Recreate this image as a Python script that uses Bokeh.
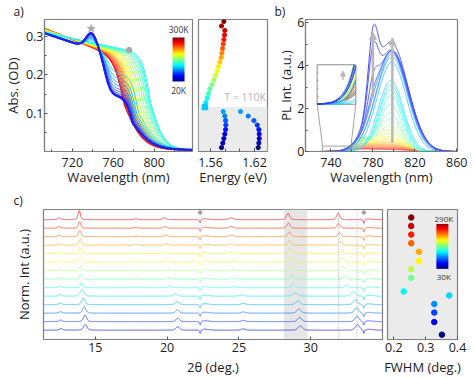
import numpy as np
from bokeh.plotting import figure
from bokeh.layouts import row, column
from bokeh.models import (Label, BoxAnnotation, Span, Arrow, NormalHead, Title,
                          FixedTicker, LinearColorMapper, Range1d)
from bokeh.embed import file_html
from bokeh.resources import INLINE

FONT = "Open Sans"
FRAME = "#808080"
TXT = "#1b1b1b"
TICK_FS = "12.5px"
LAB_FS = "13px"

# ---------------- a) absorption spectra (read from the picture) ----------------
ABS_LOW_T = [20, 30, 40, 50, 60, 70, 80, 90, 100]
ABS_LOW_A693 = [0.305, 0.305, 0.305, 0.306, 0.306, 0.306, 0.307, 0.307, 0.308]
ABS_LOW_PLAT = [0.140, 0.143, 0.148, 0.154, 0.160, 0.168, 0.176, 0.186, 0.198]
ABS_LOW_EXC = [0.043, 0.041, 0.039, 0.036, 0.033, 0.030, 0.027, 0.024, 0.020]
ABS_LOW_E1 = [752.5, 752.5, 753.0, 753.0, 753.5, 754.0, 754.5, 755.0, 756.0]
ABS_LOW_E2 = [779.0, 779.0, 779.5, 780.0, 780.5, 781.0, 782.0, 783.0, 784.5]
ABS_TILT = -0.0009
ABS_EXC_NM = 739.0

ABS_HIGH_T = [110, 120, 130, 140, 150, 160, 170, 180, 190, 200,
              210, 220, 230, 240, 250, 260, 270, 280, 290, 300]
ABS_HIGH_A693 = [0.306, 0.307, 0.308, 0.309, 0.310, 0.311, 0.312, 0.312, 0.313, 0.313,
                 0.314, 0.314, 0.315, 0.315, 0.316, 0.316, 0.316, 0.317, 0.317, 0.317]
ABS_HIGH_A780 = [0.258, 0.256, 0.254, 0.252, 0.250, 0.248, 0.246, 0.244, 0.242, 0.240,
                 0.238, 0.236, 0.234, 0.232, 0.231, 0.230, 0.229, 0.228, 0.227, 0.226]
ABS_HIGH_EDGE = [796.5, 795.5, 794.5, 793.0, 791.5, 789.5, 787.5, 785.5, 783.5, 782.0,
                 780.5, 779.0, 778.0, 777.0, 776.0, 775.0, 774.0, 773.0, 772.0, 771.0]
ABS_HIGH_WLO = [4.0, 4.0, 4.1, 4.1, 4.2, 4.2, 4.3, 4.3, 4.4, 4.4,
                4.5, 4.5, 4.6, 4.6, 4.7, 4.7, 4.8, 4.8, 4.9, 5.0]
ABS_HIGH_WHI = [7.0, 7.2, 7.4, 7.6, 7.8, 8.0, 8.2, 8.4, 8.6, 8.8,
                9.0, 9.1, 9.2, 9.3, 9.4, 9.5, 9.6, 9.7, 9.8, 10.0]
ABS_MARK_STAR = (738.5, 0.321)
ABS_MARK_DOT = (775.6, 0.265)

# ---------------- a) right: energy vs temperature ----------------
EN_T_HIGH = [300, 290, 280, 270, 260, 250, 240, 230, 220, 210,
             200, 190, 180, 170, 160, 150, 140, 130, 120, 110]
EN_HIGH = [1.5782, 1.5750, 1.5795, 1.5791, 1.5782, 1.5773, 1.5764, 1.5755, 1.5745, 1.5727,
           1.5709, 1.5691, 1.5668, 1.5645, 1.5618, 1.5591, 1.5573, 1.5555, 1.5536, 1.5523]
EN_T_LOW = [100, 90, 80, 70, 60, 50, 40, 30, 20]
EN_LOW_A = [1.5773, 1.5795, 1.5805, 1.5809, 1.5805, 1.5795, 1.5782, 1.5768, 1.5750]
EN_LOW_B = [1.6009, 1.6114, 1.6191, 1.6237, 1.6259, 1.6264, 1.6264, 1.6259, 1.6250]
T_TRANSITION = 110

# ---------------- b) PL spectra ----------------
PL_T = [20, 30, 40, 50, 60, 70, 80, 90, 100, 110, 120, 130, 140, 150, 160,
        170, 180, 190, 200, 210, 220, 230, 240, 250, 260, 270, 280, 290, 300]
PL_A1 = [2.90, 2.30, 1.14, 0.40, 0.15, 0, 0, 0, 0, 0, 0, 0, 0, 0, 0,
         0, 0, 0, 0, 0, 0, 0, 0, 0, 0, 0, 0, 0, 0]
PL_A2 = [5.10, 4.72, 4.70, 4.70, 4.65, 4.55, 4.40, 4.15, 3.30, 3.10, 2.90, 2.60, 2.20, 1.80, 1.50,
         1.20, 1.00, 0.85, 0.70, 0.60, 0.50, 0.42, 0.35, 0.30, 0.25, 0.20, 0.16, 0.13, 0.10]
PL_C2 = [797, 797, 798, 798, 798, 798, 798, 798, 797, 797, 797, 797, 796.5, 796, 796,
         795.5, 795, 795, 794.5, 794, 794, 793.5, 793, 793, 792, 792, 791, 790, 790]
PL_SL = [16, 16, 16, 16, 16, 15, 15, 14, 12, 11, 11, 10.5, 10.5, 10.5, 11,
         11, 11.5, 12, 12.5, 13, 14, 15, 16, 17, 18, 19, 20, 21, 22]
PL_SR = [16, 16, 16, 16, 15.5, 15, 15, 14, 12, 11.5, 11, 11, 11, 11, 11.5,
         12, 12.5, 13, 14, 15, 16, 17, 18, 19, 20, 21, 22, 23, 24]
PL_A3 = [0, 0, 0, 0, 0, 0, 0, 0, 0, 0.05, 0.15, 0.30, 0.45, 0.55, 0.60,
         0.60, 0.55, 0.50, 0.42, 0.35, 0.30, 0.25, 0.20, 0.16, 0.13, 0.10, 0.08, 0.06, 0.05]
PL_C1, PL_S1 = 780.0, 4.5
PL_C3, PL_S3 = 768.0, 8.0
PL_ARROWS = [(780.0, 2.5, 5.55), (798.5, 0.4, 5.3)]
INSET_BOX = (726.8, 763.7, 2.2, 4.04)
INSET_VIEW = (732.0, 759.0, 0.0, 0.25)

# ---------------- c) XRD ----------------
XRD_T = [30, 50, 70, 90, 110, 130, 150, 170, 190, 210, 230, 250, 270, 290]
XRD_P12_POS = [12.60, 12.60, 12.58, 12.56, 12.55, 12.52, 12.50, 12.50, 12.49, 12.48, 12.48, 12.48, 12.48, 12.48]
XRD_P12_H = [0.18, 0.18, 0.18, 0.18, 0.17, 0.15, 0.15, 0.15, 0.15, 0.15, 0.16, 0.17, 0.18, 0.20]
XRD_P14_POS = [14.30, 14.28, 14.23, 14.16, 14.07, 14.02, 13.99, 13.99, 13.97, 13.95, 13.95, 13.92, 13.90, 13.88]
XRD_P14_H = [0.68, 0.76, 0.76, 0.76, 0.80, 0.57, 0.60, 0.60, 0.62, 0.64, 0.68, 0.76, 0.76, 1.06]
XRD_P18_POS = [17.85] * 14
XRD_P18_H = [0, 0, 0, 0, 0, 0.05, 0.05, 0.06, 0.06, 0.07, 0.08, 0.08, 0.09, 0.10]
XRD_P20_POS = [20.74, 20.74, 20.72, 20.70, 20.60, 20.20, 20.15, 20.10, 20.05, 20.00, 19.95, 19.90, 19.85, 19.81]
XRD_P20_H = [0.40, 0.40, 0.40, 0.38, 0.30, 0.15, 0.15, 0.15, 0.15, 0.18, 0.18, 0.20, 0.20, 0.22]
XRD_P25_POS = [25.30, 25.30, 25.30, 25.30, 25.20, 24.70, 24.65, 24.60, 24.55, 24.50, 24.50, 24.48, 24.46, 24.46]
XRD_P25_H = [0.15, 0.15, 0.15, 0.15, 0.15, 0.12, 0.12, 0.12, 0.12, 0.15, 0.15, 0.18, 0.20, 0.22]
XRD_PE_POS = [29.28, 29.23, 29.18, 29.11, 28.93, 28.77, 28.70, 28.65, 28.60, 28.58, 28.53, 28.51, 28.46, 28.42]
XRD_PE_H = [0.50, 0.50, 0.50, 0.45, 0.40, 0.50, 0.55, 0.55, 0.55, 0.55, 0.55, 0.55, 0.60, 0.76]
XRD_PF_POS = [33.26, 33.23, 33.19, 33.12, 32.95, 32.49, 32.37, 32.26, 32.21, 32.14, 32.09, 32.02, 31.95, 31.91]
XRD_PF_H = [0.65, 0.65, 0.65, 0.60, 0.50, 0.35, 0.45, 0.50, 0.50, 0.50, 0.50, 0.50, 0.55, 0.76]
XRD_ART_POS = [22.30, 33.70]
XRD_ART_DIP = [0.45, 0.50]
XRD_ART_BUMP = [0.12, 0.10]
XRD_BAND = (28.14, 29.77)
XRD_DOTTED = [31.95, 33.23]

FWHM_T = [30, 58, 79, 98, 117, 126, 156, 175, 194, 214, 233, 252, 271, 290]
FWHM_VAL = [0.351, 0.327, 0.327, 0.327, 0.374, 0.231, 0.2545, 0.2545, 0.279, 0.279,
            0.2545, 0.2545, 0.2545, 0.2545]


# ---------------- helpers ----------------
def jet_rgb(f):
    f = min(max(f, 0.0), 1.0)
    r = min(max(1.5 - abs(4 * f - 3), 0), 1)
    g = min(max(1.5 - abs(4 * f - 2), 0), 1)
    b = min(max(1.5 - abs(4 * f - 1), 0), 1)
    return r, g, b


def hexc(rgb, light=0.0):
    return "#%02x%02x%02x" % tuple(int(round(255 * (c + (1 - c) * light))) for c in rgb)


def jet(t, lo, hi, light=0.0):
    """full jet scale (markers, colour bars)"""
    return hexc(jet_rgb((t - lo) / (hi - lo)), light)


def jetl(t, lo, hi, light=0.0):
    """jet scale as used for the spectra lines (no darkest ends)"""
    return hexc(jet_rgb(0.1 + 0.8 * (t - lo) / (hi - lo)), light)


JET256 = [hexc(jet_rgb(i / 255.0)) for i in range(256)]


def make_fig(w, h, xr, yr, bl, br, bt, bb, letter=None, letter_standoff=0):
    p = figure(width=w, height=h, x_range=Range1d(*xr), y_range=Range1d(*yr),
               output_backend="svg", toolbar_location=None, title=letter,
               min_border_left=bl, min_border_right=br,
               min_border_top=bt, min_border_bottom=bb)
    if letter is not None:
        p.title.align = "left"
        p.title.offset = -31
        p.title.standoff = letter_standoff
        p.title.text_font = FONT
        p.title.text_font_size = "12px"
        p.title.text_font_style = "normal"
        p.title.text_color = TXT
    p.grid.visible = False
    p.outline_line_color = FRAME
    p.outline_line_width = 1.2
    p.background_fill_color = "white"
    p.border_fill_color = "white"
    for ax in p.axis:
        ax.axis_line_color = FRAME
        ax.axis_line_width = 1.2
        ax.major_tick_line_color = "#555555"
        ax.minor_tick_line_color = "#555555"
        ax.major_tick_in = 3
        ax.major_tick_out = 0
        ax.minor_tick_in = 2
        ax.minor_tick_out = 0
        ax.major_label_text_font = FONT
        ax.major_label_text_font_size = TICK_FS
        ax.major_label_text_color = TXT
        ax.major_label_standoff = 1
        ax.axis_label_text_font = FONT
        ax.axis_label_text_font_size = LAB_FS
        ax.axis_label_text_font_style = "normal"
        ax.axis_label_text_color = TXT
    return p


def xlabel(p, text, tick_standoff, label_standoff):
    p.xaxis.axis_label = text
    p.xaxis.major_label_standoff = tick_standoff
    p.xaxis.axis_label_standoff = label_standoff


def ytitle(p, text, offset, standoff):
    p.add_layout(Title(text=text, align="center", offset=offset, standoff=standoff,
                       text_font=FONT, text_font_size=LAB_FS, text_font_style="normal",
                       text_color=TXT), "left")


def inlab(p, text, x, y, size, color="#333333"):
    p.add_layout(Label(x=x, y=y, text=text, text_align="center", text_baseline="middle",
                       text_font=FONT, text_font_size=size, text_color=color))


def step(x, e, wlo, whi):
    w = np.where(x < e, wlo, whi)
    return 1.0 / (1.0 + np.exp((x - e) / w))


def pl_curve(lam, i):
    g1 = PL_A1[i] * np.exp(-(lam - PL_C1) ** 2 / (2 * PL_S1 ** 2))
    s = np.where(lam < PL_C2[i], PL_SL[i], PL_SR[i])
    g2 = PL_A2[i] * np.exp(-(lam - PL_C2[i]) ** 2 / (2 * s ** 2))
    g3 = PL_A3[i] * np.exp(-(lam - PL_C3) ** 2 / (2 * PL_S3 ** 2))
    return g1 + g2 + g3


def pv(x, c, fw):
    g = np.exp(-4 * np.log(2) * (x - c) ** 2 / fw ** 2)
    l = 1.0 / (1.0 + ((x - c) / (fw / 2)) ** 2)
    return 0.6 * g + 0.4 * l


ROW1_H, ROW2_H = 188, 190

# ================= panel a (absorption) =================
fa1 = make_fig(195, ROW1_H, (692.8, 837.5), (0.0, 0.345), 43, 3, 17, 35, letter="a)")
fa1.xaxis.ticker = FixedTicker(ticks=[720, 760, 800], minor_ticks=[700, 740, 780, 820])
fa1.yaxis.ticker = FixedTicker(ticks=[0.1, 0.2, 0.3], minor_ticks=[0.05, 0.15, 0.25])
xlabel(fa1, "Wavelength (nm)", 6, -2)
ytitle(fa1, "Abs. (OD)", 8.5, 2)
lam_a = np.arange(692.8, 837.6, 0.5)
xs, ys, cs, ws = [], [], [], []
for k in range(len(ABS_HIGH_T) - 1, -1, -1):
    base = ABS_HIGH_A693[k] + (ABS_HIGH_A780[k] - ABS_HIGH_A693[k]) * (lam_a - 693) / 87.0
    y = base * step(lam_a, ABS_HIGH_EDGE[k], ABS_HIGH_WLO[k], ABS_HIGH_WHI[k]) + 0.004
    xs.append(lam_a); ys.append(y); cs.append(jetl(ABS_HIGH_T[k], 20, 300, 0.1))
    ws.append(1.6 if ABS_HIGH_T[k] == 300 else 1.0)
for k in range(len(ABS_LOW_T) - 1, -1, -1):
    upper = (ABS_LOW_A693[k] - ABS_LOW_PLAT[k] + ABS_TILT * (lam_a - 693)) * step(lam_a, ABS_LOW_E1[k], 3.0, 3.0)
    lower = ABS_LOW_PLAT[k] * step(lam_a, ABS_LOW_E2[k], 3.5, 10.0)
    exc = ABS_LOW_EXC[k] * np.exp(-(lam_a - ABS_EXC_NM) ** 2 / (2 * 5.5 ** 2))
    xs.append(lam_a); ys.append(upper + lower + exc + 0.004)
    cs.append(jetl(ABS_LOW_T[k], 20, 300, 0.12))
    ws.append(2.0 if ABS_LOW_T[k] <= 30 else 1.0)
fa1.multi_line(xs, ys, line_color=cs, line_width=ws)
fa1.scatter([ABS_MARK_STAR[0]], [ABS_MARK_STAR[1]], marker="star", size=8,
            color="#a8a8a8", line_color="#a8a8a8")
fa1.scatter([ABS_MARK_DOT[0]], [ABS_MARK_DOT[1]], marker="circle", size=5.5,
            color="#a8a8a8", line_color="#a8a8a8")
fa1.image(image=[np.linspace(0, 1, 256).reshape(-1, 1)], x=818.0, y=0.183, dw=11.7, dh=0.115,
          color_mapper=LinearColorMapper(palette=JET256, low=0, high=1))
inlab(fa1, "300K", 823.9, 0.318, "8.5px")
inlab(fa1, "20K", 823.9, 0.160, "8.5px")

fa2 = make_fig(79, ROW1_H, (1.5436, 1.6377), (11.3, 304.4), 3, 7, 17, 35)
fa2.yaxis.visible = False
fa2.xaxis.ticker = FixedTicker(ticks=[1.56, 1.62], minor_ticks=[1.56, 1.58, 1.60, 1.62])
fa2.xaxis.minor_tick_in = 3
xlabel(fa2, "Energy (eV)", 6, -2)
fa2.add_layout(BoxAnnotation(top=T_TRANSITION, fill_color="#ebebeb", fill_alpha=1.0,
                             line_color=None, level="underlay"))
hc = [jet(t, 20, 300) for t in EN_T_HIGH[:-1]]
fa2.scatter(EN_HIGH[:-1], EN_T_HIGH[:-1], size=4.2, color=hc, line_color=hc)
lc = [jet(t, 20, 300) for t in EN_T_LOW]
fa2.scatter(EN_LOW_A, EN_T_LOW, size=4.2, color=lc, line_color=lc)
fa2.scatter(EN_LOW_B, EN_T_LOW, size=4.2, color=lc, line_color=lc)
c110 = jet(EN_T_HIGH[-1], 20, 300)
fa2.scatter([EN_HIGH[-1]], [EN_T_HIGH[-1]], marker="square", size=5.5, color=c110, line_color=c110)
fa2.add_layout(Label(x=1.6355, y=T_TRANSITION, y_offset=3, text="T = 110K", text_align="right",
                     text_baseline="bottom", text_font=FONT, text_font_size="10.5px",
                     text_color="#b5b5b5"))

# ================= panel b (PL) =================
fb = make_fig(193, ROW1_H, (715.7, 860.6), (0.0, 6.15), 30, 10, 17, 35, letter="b)")
fb.xaxis.ticker = FixedTicker(ticks=[740, 780, 820, 860], minor_ticks=[760, 800, 840])
fb.yaxis.ticker = FixedTicker(ticks=[0, 2, 4, 6], minor_ticks=[1, 3, 5])
xlabel(fb, "Wavelength (nm)", 6, -2)
ytitle(fb, "PL Int. (a.u.)", 7.5, 0)
lam_b = np.arange(715.7, 860.6, 0.25)
xs, ys, cs = [], [], []
for k in range(len(PL_T) - 1, -1, -1):
    xs.append(lam_b); ys.append(pl_curve(lam_b, k)); cs.append(jetl(PL_T[k], 20, 300, 0.3))
fb.multi_line(xs, ys, line_color=cs, line_width=1.0)
for (ax_, y0, y1) in PL_ARROWS:
    fb.add_layout(Arrow(end=NormalHead(size=7, fill_color="#b8b8b8", line_color="#b8b8b8"),
                        x_start=ax_, y_start=y0, x_end=ax_, y_end=y1,
                        line_color="#b8b8b8", line_width=2.5))
# inset (zoom of the short-wavelength tail)
bx0, bx1, by0, by1 = INSET_BOX
vx0, vx1, vy0, vy1 = INSET_VIEW
fb.quad(left=[bx0], right=[bx1], bottom=[by0], top=[by1], fill_color="white",
        line_color="#8a8a8a", line_width=1)
fb.quad(left=[vx0], right=[vx1], bottom=[vy0], top=[vy1], fill_alpha=0,
        line_color="#8a8a8a", line_width=0.8)
fb.segment(x0=[bx0, bx1], y0=[by0, by0], x1=[vx0, vx1], y1=[vy1, vy1],
           line_color="#8a8a8a", line_width=0.8)
lam_i = np.arange(vx0, vx1 + 0.01, 0.1)
xs, ys, cs = [], [], []
for k in range(len(PL_T) - 1, -1, -1):
    v = pl_curve(lam_i, k)
    Y = by0 + (v - vy0) / (vy1 - vy0) * (by1 - by0)
    Y = np.where(v > vy1, np.nan, Y)
    X = bx0 + (lam_i - vx0) / (vx1 - vx0) * (bx1 - bx0)
    xs.append(X); ys.append(Y); cs.append(jetl(PL_T[k], 20, 300, 0.2))
fb.multi_line(xs, ys, line_color=cs, line_width=1.0)
iy = [by0 + f * (by1 - by0) for f in (0.2, 0.4, 0.6, 0.8)]
fb.segment(x0=[bx0] * 4, y0=iy, x1=[bx0 + 1.2] * 4, y1=iy, line_color="#8a8a8a", line_width=0.8)
ax_i = bx0 + (750 - vx0) / (vx1 - vx0) * (bx1 - bx0)
fb.add_layout(Arrow(end=NormalHead(size=5, fill_color="#b8b8b8", line_color="#b8b8b8"),
                    x_start=ax_i, y_start=by0 + 0.62 * (by1 - by0), x_end=ax_i,
                    y_end=by0 + 0.84 * (by1 - by0), line_color="#b8b8b8", line_width=1.5))

# ================= panel c (XRD) =================
fc1 = make_fig(384, ROW2_H, (11.39, 35.0), (-1.1, 14.2), 43, 2, 17, 38, letter="c)", letter_standoff=2)
fc1.title.offset = -30
fc1.yaxis.visible = False
fc1.xaxis.ticker = FixedTicker(ticks=[15, 20, 25, 30])
xlabel(fc1, "2θ (deg.)", 3, 3)
ytitle(fc1, "Norm. Int (a.u.)", 2, 21)
fc1.add_layout(BoxAnnotation(left=XRD_BAND[0], right=XRD_BAND[1], fill_color="#e6e6e6",
                             fill_alpha=1.0, line_color=None, level="underlay"))
for xd in XRD_DOTTED:
    fc1.add_layout(Span(location=xd, dimension="height", line_color="#9a9a9a",
                        line_dash="1 2", line_width=0.9))
tt = np.arange(11.39, 35.0, 0.01)
xs, ys, cs = [], [], []
for i in range(len(XRD_T)):
    fw = FWHM_VAL[i]
    y = (i + XRD_P12_H[i] * pv(tt, XRD_P12_POS[i], 0.25)
         + XRD_P14_H[i] * pv(tt, XRD_P14_POS[i], 0.8 * fw)
         + XRD_P18_H[i] * pv(tt, XRD_P18_POS[i], 0.3)
         + XRD_P20_H[i] * pv(tt, XRD_P20_POS[i], 0.3)
         + XRD_P25_H[i] * pv(tt, XRD_P25_POS[i], 0.35)
         + XRD_PE_H[i] * pv(tt, XRD_PE_POS[i], fw)
         + XRD_PF_H[i] * pv(tt, XRD_PF_POS[i], fw))
    for a, d, bmp in zip(XRD_ART_POS, XRD_ART_DIP, XRD_ART_BUMP):
        y = y - d / (1.0 + ((tt - a) / 0.05) ** 2) + bmp * np.exp(-(tt - a - 0.3) ** 2 / (2 * 0.3 ** 2))
    xs.append(tt); ys.append(y); cs.append(jetl(XRD_T[i], 30, 290, 0.3))
fc1.multi_line(xs, ys, line_color=cs, line_width=1.0)
fc1.scatter(XRD_ART_POS, [13.85, 13.85], size=3.5, color="#a0a0a0", line_color="#a0a0a0")

fc2 = make_fig(83, ROW2_H, (0.18, 0.40), (19.3, 307.7), 3, 10, 17, 38)
fc2.yaxis.visible = False
fc2.background_fill_color = "#ebebeb"
fc2.xaxis.ticker = FixedTicker(ticks=[0.2, 0.3, 0.4])
xlabel(fc2, "FWHM (deg.)", 3, 3)
fcol = [jet(t, 30, 290) for t in FWHM_T]
fc2.scatter(FWHM_VAL, FWHM_T, size=5.5, color=fcol, line_color=fcol)
fc2.image(image=[np.linspace(0, 1, 256).reshape(-1, 1)], x=0.3336, y=176.0, dw=0.0377, dh=99.7,
          color_mapper=LinearColorMapper(palette=JET256, low=0, high=1))
inlab(fc2, "290K", 0.357, 288.0, "8px")
inlab(fc2, "30K", 0.357, 159.5, "8px")

layout = column(row(fa1, fa2, fb), row(fc1, fc2))
open("out.html", "w").write(file_html(layout, INLINE))
